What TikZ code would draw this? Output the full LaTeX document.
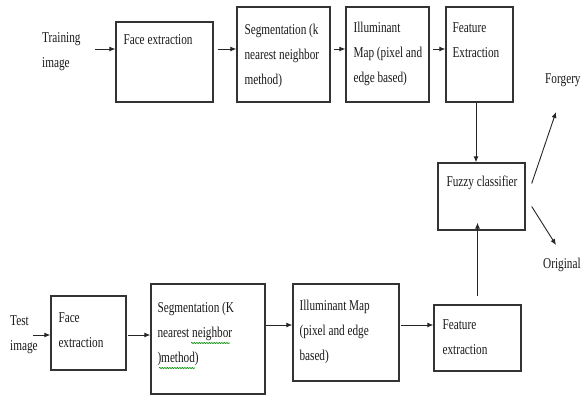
\documentclass[tikz,border=0pt]{standalone}
\usepackage{fontspec}
\setmainfont{Liberation Serif}[FakeStretch=0.75]
\usetikzlibrary{arrows.meta,decorations.pathmorphing}
\begin{document}
\begin{tikzpicture}[x=1pt,y=-1pt,
  box/.style={draw=black!80, line width=1.4pt, inner sep=0pt, fill=white},
  txt/.style={font=\fontsize{15}{25}\selectfont, align=left, inner sep=0pt, anchor=north west, text=black!90},
  arr/.style={draw=black!85, line width=0.9pt, -{Latex[length=6pt,width=5pt]}},
  squig/.style={draw=green!55!black, line width=0.6pt, decorate, decoration={snake, amplitude=0.6pt, segment length=2.5pt}}]
\useasboundingbox[fill=white] (0,0) rectangle (583,396);

% top row boxes
\node[box, minimum width=97pt, minimum height=80pt] (fe1) at (164.5,62) {};
\node[box, minimum width=93pt, minimum height=95pt] (seg1) at (283.5,54.5) {};
\node[box, minimum width=83pt, minimum height=95pt] (ill1) at (387.5,54.5) {};
\node[box, minimum width=67pt, minimum height=95pt] (feat1) at (479.5,54.5) {};
\node[box, minimum width=87pt, minimum height=67pt] (fuzzy) at (481.5,196.5) {};

% bottom row boxes
\node[box, minimum width=75pt, minimum height=74pt] (fe2) at (88.5,333) {};
\node[box, minimum width=114pt, minimum height=110pt] (seg2) at (208,339) {};
\node[box, minimum width=106pt, minimum height=97pt] (ill2) at (346,332.5) {};
\node[box, minimum width=87pt, minimum height=66pt] (feat2) at (477.5,338) {};

% box texts
\node[txt] (fe1t) at ([xshift=8pt,yshift=-13pt]fe1.north west) {Face extraction};
\node[txt] (seg1t) at ([xshift=8pt,yshift=-18pt]seg1.north west) {Segmentation (k\\nearest neighbor\\method)};
\node[txt] (ill1t) at ([xshift=8pt,yshift=-16pt]ill1.north west) {Illuminant\\Map (pixel and\\edge based)};
\node[txt] (feat1t) at ([xshift=7pt,yshift=-16pt]feat1.north west) {Feature\\Extraction};
\node[txt] (fuzzyt) at ([xshift=9pt,yshift=-13pt]fuzzy.north west) {Fuzzy classifier};

\node[txt] (fe2t) at ([xshift=8pt,yshift=-17pt]fe2.north west) {Face\\extraction};
\node[txt] (seg2t) at ([xshift=7pt,yshift=-19pt]seg2.north west) {Segmentation (K\\nearest neighbor\\)method)};
\node[txt] (ill2t) at ([xshift=7pt,yshift=-17pt]ill2.north west) {Illuminant Map\\(pixel and edge\\based)};
\node[txt] (feat2t) at ([xshift=9pt,yshift=-15pt]feat2.north west) {Feature\\extraction};

% spell-check squiggles
\draw[squig] (191,343) -- (230,343);
\draw[squig] (159,368) -- (195,368);

% outside labels
\node[txt] (tr) at (42,32) {Training\\image};
\node[txt] (te) at (10,315) {Test\\image};
\node[txt] (fg) at (545,73) {Forgery};
\node[txt] (og) at (543,258) {Original};

% row levels
\coordinate (ya) at (0,49);
\coordinate (yb) at (0,335);
\coordinate (yc) at (0,325);
\coordinate (trA) at (95,49);
\coordinate (teA) at (33,335);
\coordinate (fgA) at (556,112);
\coordinate (ogA) at (556,245);

% top arrows
\draw[arr] (trA) -- (trA -| fe1.west);
\draw[arr] (fe1.east |- ya) ++(4,0) -- (seg1.west |- ya);
\draw[arr] (seg1.east |- ya) ++(3,0) -- (ill1.west |- ya);
\draw[arr] (ill1.east |- ya) ++(3,0) -- (feat1.west |- ya);
\draw[arr] ([xshift=-3.5pt]feat1.south) -- ([xshift=-3.5pt]feat1.south |- fuzzy.north);

% bottom arrows
\draw[arr] (teA) -- (teA -| fe2.west);
\draw[arr] (fe2.east |- yb) ++(1,0) -- (seg2.west |- yb);
\draw[arr] (seg2.east |- yc) -- (ill2.west |- yc);
\draw[arr] (ill2.east |- yc) ++(1,0) -- (feat2.west |- yc);
\draw[arr] ([yshift=8pt]feat2.north) -- ([yshift=8pt]feat2.north |- fuzzy.south);

% classifier outputs
\draw[arr] ([xshift=6pt,yshift=13pt]fuzzy.east) -- (fgA);
\draw[arr] ([xshift=6pt,yshift=-10pt]fuzzy.east) -- (ogA);
\end{tikzpicture}
\end{document}
